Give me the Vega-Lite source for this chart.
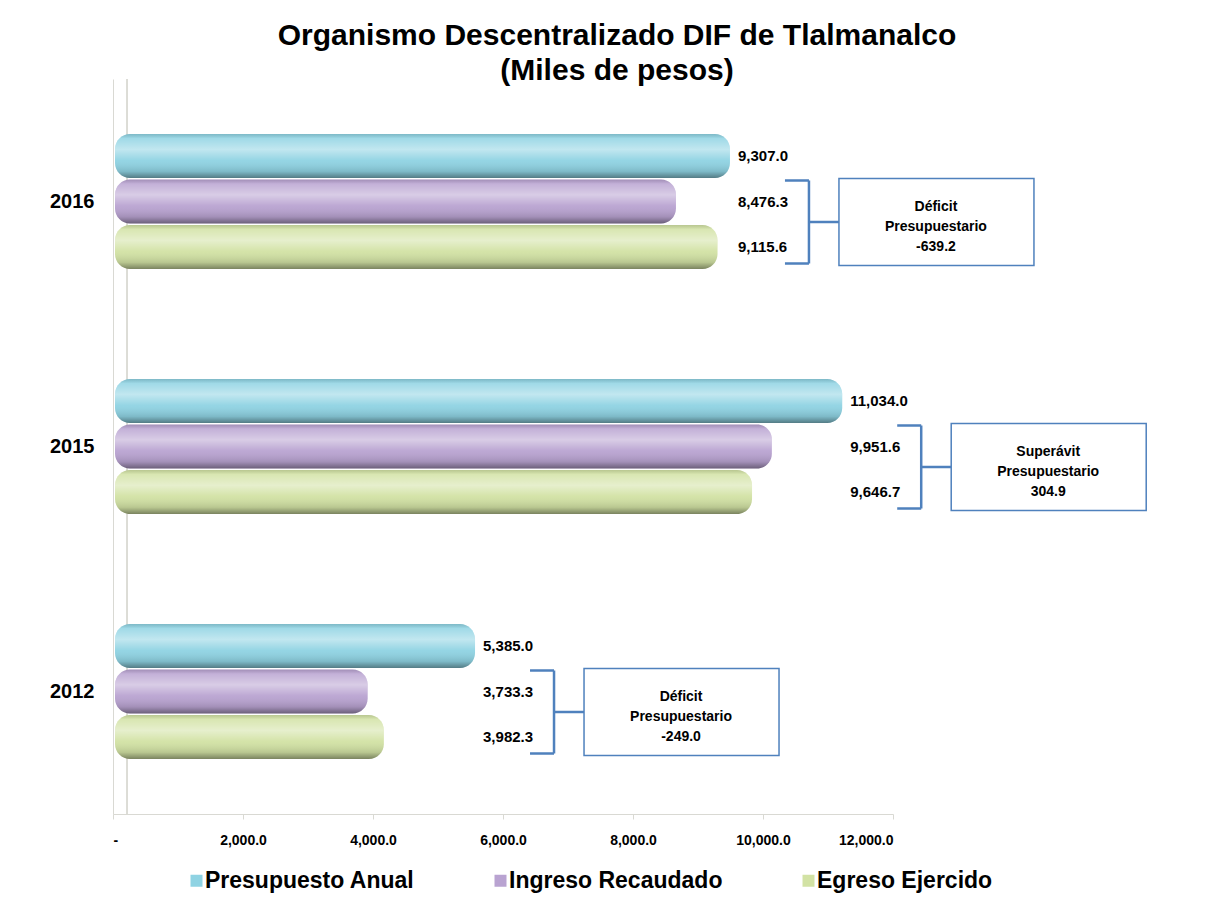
{
  "$schema": "https://vega.github.io/schema/vega-lite/v6.json",
  "width": 780,
  "height": 735,
  "autosize": {"type": "none"},
  "padding": {"left": 113, "top": 79, "right": 313, "bottom": 90},
  "background": "white",
  "config": {"view": {"stroke": null}, "font": "Liberation Sans"},
  "title": {
    "text": ["Organismo Descentralizado DIF de Tlalmanalco", "(Miles de pesos)"],
    "fontSize": 30,
    "font": "Liberation Sans",
    "fontWeight": "bold",
    "color": "#000000",
    "anchor": "middle",
    "frame": "group",
    "dx": 114,
    "lineHeight": 35,
    "offset": -7
  },
  "datasets": {
    "budget": [
      {"year": "2016", "series": "Presupuesto Anual", "value": 9307.0},
      {"year": "2016", "series": "Ingreso Recaudado", "value": 8476.3},
      {"year": "2016", "series": "Egreso Ejercido", "value": 9115.6},
      {"year": "2015", "series": "Presupuesto Anual", "value": 11034.0},
      {"year": "2015", "series": "Ingreso Recaudado", "value": 9951.6},
      {"year": "2015", "series": "Egreso Ejercido", "value": 9646.7},
      {"year": "2012", "series": "Presupuesto Anual", "value": 5385.0},
      {"year": "2012", "series": "Ingreso Recaudado", "value": 3733.3},
      {"year": "2012", "series": "Egreso Ejercido", "value": 3982.3}
    ],
    "notes": [
      {"year": "2016", "note": "Déficit\nPresupuestario\n-639.2"},
      {"year": "2015", "note": "Superávit\nPresupuestario\n304.9"},
      {"year": "2012", "note": "Déficit\nPresupuestario\n-249.0"}
    ]
  },
  "data": {"name": "budget"},
  "transform": [
    {"joinaggregate": [{"op": "max", "field": "value", "as": "gmax"}], "groupby": ["year"]}
  ],
  "layer": [
    {
      "mark": {"type": "rule", "color": "#dcdcd6", "strokeWidth": 1, "xOffset": 14},
      "encoding": {"x": {"datum": 0, "type": "quantitative"}}
    },
    {
      "mark": {"type": "bar", "cornerRadius": 15, "xOffset": 12, "x2Offset": 2},
      "encoding": {
        "y": {
          "field": "year", "type": "nominal", "sort": ["2016", "2015", "2012"], "title": null,
          "scale": {"paddingInner": 0.449, "paddingOuter": 0.2245},
          "axis": {"labelFontSize": 20, "labelFontWeight": "bold", "labelFont": "Liberation Sans", "labelColor": "#000000", "labelPadding": 19, "ticks": false, "domainColor": "#d9d9d3", "domainWidth": 1}
        },
        "yOffset": {
          "field": "series", "type": "nominal",
          "sort": ["Presupuesto Anual", "Ingreso Recaudado", "Egreso Ejercido"],
          "scale": {"paddingInner": 0.03}
        },
        "x": {
          "field": "value", "type": "quantitative", "title": null, "stack": null,
          "scale": {"domain": [0, 12000], "nice": false},
          "axis": {
            "values": [0, 2000, 4000, 6000, 8000, 10000, 12000],
            "labelExpr": "datum.value === 0 ? '-' : format(datum.value, ',.1f')",
            "labelFontSize": 14, "labelFontWeight": "bold", "labelFont": "Liberation Sans", "labelColor": "#000000",
            "labelPadding": 14, "tickColor": "#d9d9d3", "tickSize": 5, "domainColor": "#d9d9d3", "grid": false
          }
        },
        "x2": {"datum": 0},
        "color": {
          "field": "series", "type": "nominal",
          "sort": ["Presupuesto Anual", "Ingreso Recaudado", "Egreso Ejercido"],
          "scale": {"domain": ["Presupuesto Anual", "Ingreso Recaudado", "Egreso Ejercido"], "range": ["#8FD3E3", "#B9A3D1", "#D2E2A4"]},
          "legend": {
            "orient": "none", "legendX": 72, "legendY": 790, "direction": "horizontal", "columns": 3,
            "columnPadding": 74, "title": null, "symbolType": "square", "symbolSize": 144, "symbolStrokeWidth": 0,
            "labelFontSize": 23, "labelFontWeight": "bold", "labelFont": "Liberation Sans", "labelColor": "#000000",
            "labelOffset": -3, "labelLimit": 400
          }
        }
      }
    },
    {
      "mark": {
        "type": "bar", "cornerRadius": 15, "xOffset": 12, "x2Offset": 2,
        "color": {
          "gradient": "linear", "x1": 0, "y1": 0, "x2": 0, "y2": 1,
          "stops": [
            {"offset": 0, "color": "rgba(0,0,0,0.12)"},
            {"offset": 0.1, "color": "rgba(255,255,255,0.15)"},
            {"offset": 0.35, "color": "rgba(255,255,255,0.45)"},
            {"offset": 0.6, "color": "rgba(255,255,255,0.05)"},
            {"offset": 0.85, "color": "rgba(0,0,0,0.12)"},
            {"offset": 1, "color": "rgba(0,0,0,0.42)"}
          ]
        }
      },
      "encoding": {
        "y": {"field": "year", "type": "nominal", "sort": ["2016", "2015", "2012"], "title": null},
        "yOffset": {"field": "series", "type": "nominal", "sort": ["Presupuesto Anual", "Ingreso Recaudado", "Egreso Ejercido"]},
        "x": {"field": "value", "type": "quantitative", "title": null, "stack": null},
        "x2": {"datum": 0}
      }
    },
    {
      "mark": {"type": "text", "align": "left", "baseline": "middle", "dx": 20, "fontSize": 15, "fontWeight": "bold", "font": "Liberation Sans", "color": "#000000"},
      "encoding": {
        "y": {"field": "year", "type": "nominal", "sort": ["2016", "2015", "2012"], "title": null},
        "yOffset": {"field": "series", "type": "nominal", "sort": ["Presupuesto Anual", "Ingreso Recaudado", "Egreso Ejercido"]},
        "x": {"field": "gmax", "type": "quantitative", "title": null},
        "text": {"field": "value", "type": "quantitative", "format": ",.1f"}
      }
    },
    {
      "transform": [
        {"filter": "datum.series === 'Presupuesto Anual'"},
        {"lookup": "year", "from": {"data": {"name": "notes"}, "key": "year", "fields": ["note"]}}
      ],
      "layer": [
        {
          "mark": {"type": "rule", "color": "#4F81BD", "strokeWidth": 2.5, "xOffset": 91, "yOffset": -21, "y2Offset": 62},
          "encoding": {
            "x": {"field": "gmax", "type": "quantitative", "title": null},
            "y": {"field": "year", "type": "nominal", "sort": ["2016", "2015", "2012"], "title": null},
            "y2": {"field": "year"}
          }
        },
        {
          "mark": {"type": "rule", "color": "#4F81BD", "strokeWidth": 2.5, "xOffset": 67, "x2Offset": 91, "yOffset": -21},
          "encoding": {
            "x": {"field": "gmax", "type": "quantitative", "title": null},
            "x2": {"field": "gmax"},
            "y": {"field": "year", "type": "nominal", "sort": ["2016", "2015", "2012"], "title": null}
          }
        },
        {
          "mark": {"type": "rule", "color": "#4F81BD", "strokeWidth": 2.5, "xOffset": 67, "x2Offset": 91, "yOffset": 62},
          "encoding": {
            "x": {"field": "gmax", "type": "quantitative", "title": null},
            "x2": {"field": "gmax"},
            "y": {"field": "year", "type": "nominal", "sort": ["2016", "2015", "2012"], "title": null}
          }
        },
        {
          "mark": {"type": "rule", "color": "#4F81BD", "strokeWidth": 2.5, "xOffset": 91, "x2Offset": 121, "yOffset": 20.5},
          "encoding": {
            "x": {"field": "gmax", "type": "quantitative", "title": null},
            "x2": {"field": "gmax"},
            "y": {"field": "year", "type": "nominal", "sort": ["2016", "2015", "2012"], "title": null}
          }
        },
        {
          "mark": {"type": "rect", "fill": "white", "stroke": "#4F81BD", "strokeWidth": 1.5, "xOffset": 121, "x2Offset": 316, "yOffset": -23, "y2Offset": 64},
          "encoding": {
            "x": {"field": "gmax", "type": "quantitative", "title": null},
            "x2": {"field": "gmax"},
            "y": {"field": "year", "type": "nominal", "sort": ["2016", "2015", "2012"], "title": null},
            "y2": {"field": "year"}
          }
        },
        {
          "mark": {"type": "text", "align": "center", "baseline": "middle", "dx": 218, "dy": 5, "lineBreak": "\n", "lineHeight": 20, "fontSize": 14, "fontWeight": "bold", "font": "Liberation Sans", "color": "#000000"},
          "encoding": {
            "x": {"field": "gmax", "type": "quantitative", "title": null},
            "y": {"field": "year", "type": "nominal", "sort": ["2016", "2015", "2012"], "title": null},
            "text": {"field": "note", "type": "nominal"}
          }
        }
      ]
    }
  ]
}
